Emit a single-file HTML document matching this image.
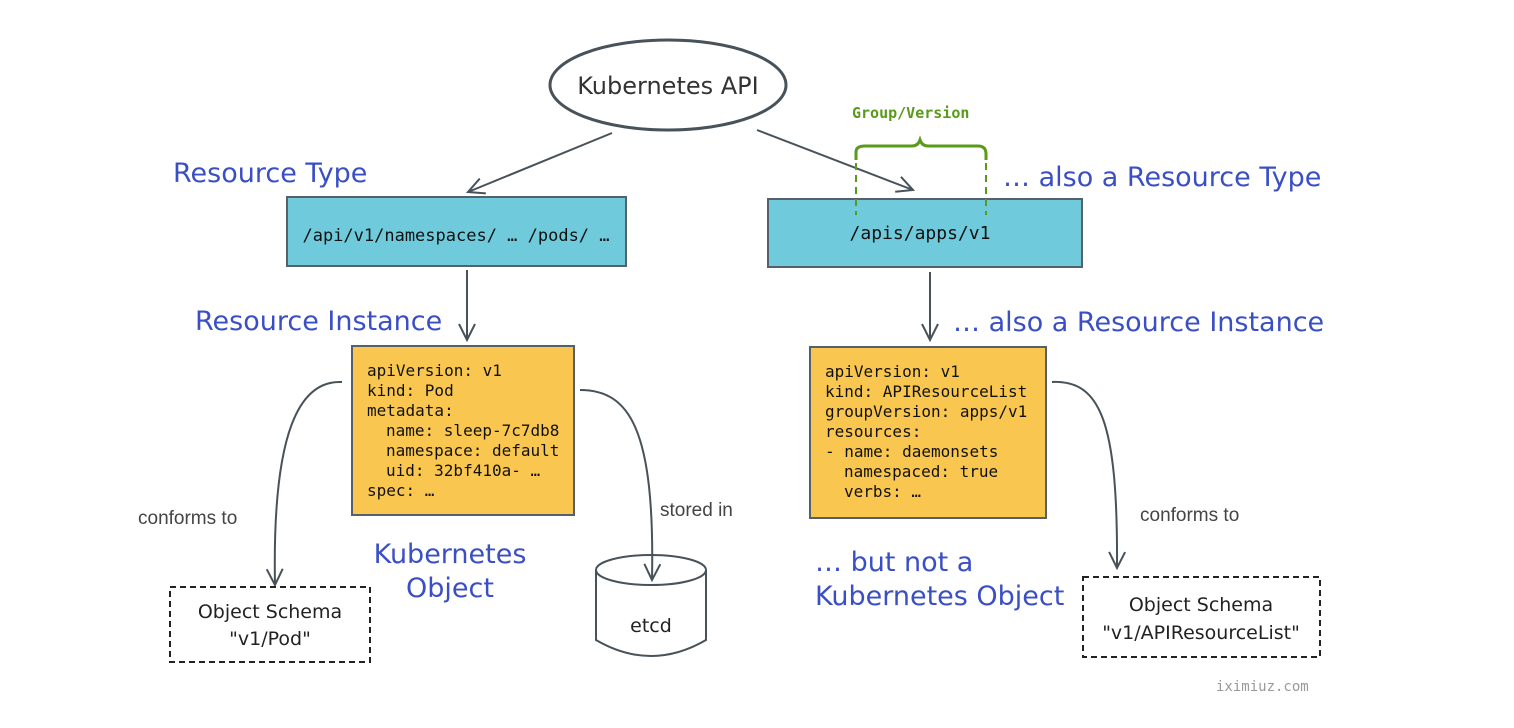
<!DOCTYPE html>
<html><head><meta charset="utf-8"><style>
html,body{margin:0;padding:0;background:#fff;}
svg{display:block;}
.hw{font-family:"DejaVu Sans","Liberation Sans",sans-serif;}
.mono{font-family:"DejaVu Sans Mono","Liberation Mono",monospace;}
</style></head><body>
<svg width="1514" height="728" viewBox="0 0 1514 728" xmlns="http://www.w3.org/2000/svg">
<defs>
<marker id="a" viewBox="0 0 20 20" refX="18" refY="10" markerWidth="20" markerHeight="20" markerUnits="userSpaceOnUse" orient="auto">
<path d="M2 2 L18 10 L2 18" fill="none" stroke="#48525a" stroke-width="2"/>
</marker>
</defs>
<g fill="none" stroke="#48525a" stroke-width="2">
<ellipse cx="668" cy="85" rx="118" ry="45" stroke-width="3"/>
<path d="M612 133 L468 192" marker-end="url(#a)"/>
<path d="M757 130 L913 190" marker-end="url(#a)"/>
<path d="M467 270 L467 340" marker-end="url(#a)"/>
<path d="M930 272 L930 340" marker-end="url(#a)"/>
<path d="M342 382 C300 380 272 430 275 585" marker-end="url(#a)"/>
<path d="M580 390 C630 390 655 430 652 580" marker-end="url(#a)"/>
<path d="M1052 382 C1100 380 1118 420 1117 568" marker-end="url(#a)"/>
</g>
<text x="668" y="94" text-anchor="middle" class="hw" font-size="24" fill="#333">Kubernetes API</text>
<rect x="287" y="197" width="339" height="69" fill="#6fcbdc" stroke="#55606a" stroke-width="2"/>
<text x="456" y="241" text-anchor="middle" class="mono" font-size="17" fill="#111">/api/v1/namespaces/ … /pods/ …</text>
<rect x="768" y="199" width="314" height="68" fill="#6fcbdc" stroke="#55606a" stroke-width="2"/>
<text x="920" y="239" text-anchor="middle" class="mono" font-size="18" fill="#111">/apis/apps/v1</text>
<text x="852" y="118" class="mono" font-size="15" fill="#5a9a1a" font-weight="bold">Group/Version</text>
<path d="M856 160 L856 152 Q856 146 865 146 L912 146 Q918 146 920 140 Q922 146 928 146 L978 146 Q986 146 986 154 L986 160" fill="none" stroke="#5a9a1a" stroke-width="3"/>
<path d="M856 163 L856 215 M986 163 L986 215" stroke="#5a9a1a" stroke-width="2" stroke-dasharray="7 5"/>
<g class="hw" font-size="27" fill="#3b4fc4">
<text x="173" y="182">Resource Type</text>
<text x="1003" y="186">… also a Resource Type</text>
<text x="195" y="330">Resource Instance</text>
<text x="953" y="331">… also a Resource Instance</text>
<text x="450" y="563" text-anchor="middle">Kubernetes</text>
<text x="450" y="597" text-anchor="middle">Object</text>
<text x="815" y="571">… but not a</text>
<text x="815" y="605">Kubernetes Object</text>
</g>
<rect x="352" y="346" width="222" height="169" fill="#f9c74f" stroke="#55606a" stroke-width="2"/>
<g class="mono" font-size="16" fill="#111">
<text x="367" y="376">apiVersion: v1</text>
<text x="367" y="396">kind: Pod</text>
<text x="367" y="416">metadata:</text>
<text x="386" y="436">name: sleep-7c7db8</text>
<text x="386" y="456">namespace: default</text>
<text x="386" y="476">uid: 32bf410a- …</text>
<text x="367" y="496">spec:  …</text>
</g>
<rect x="810" y="347" width="236" height="171" fill="#f9c74f" stroke="#55606a" stroke-width="2"/>
<g class="mono" font-size="16" fill="#111">
<text x="825" y="377">apiVersion: v1</text>
<text x="825" y="397">kind: APIResourceList</text>
<text x="825" y="417">groupVersion: apps/v1</text>
<text x="825" y="437">resources:</text>
<text x="825" y="457">- name: daemonsets</text>
<text x="844" y="477">namespaced: true</text>
<text x="844" y="497">verbs:  …</text>
</g>
<g font-family="'Liberation Sans',sans-serif" font-size="19" fill="#444">
<text x="138" y="524">conforms to</text>
<text x="660" y="516">stored in</text>
<text x="1140" y="521">conforms to</text>
</g>
<rect x="170" y="587" width="200" height="75" fill="none" stroke="#222" stroke-width="2" stroke-dasharray="6 4"/>
<text x="270" y="618" text-anchor="middle" class="hw" font-size="19" fill="#222">Object Schema</text>
<text x="270" y="645" text-anchor="middle" class="hw" font-size="19" fill="#222">"v1/Pod"</text>
<rect x="1083" y="577" width="237" height="80" fill="none" stroke="#222" stroke-width="2" stroke-dasharray="6 4"/>
<text x="1201" y="611" text-anchor="middle" class="hw" font-size="19" fill="#222">Object Schema</text>
<text x="1201" y="639" text-anchor="middle" class="hw" font-size="19" fill="#222">"v1/APIResourceList"</text>
<g fill="none" stroke="#48525a" stroke-width="2">
<path d="M596 570 L596 640 Q651 672 706 640 L706 570"/>
<ellipse cx="651" cy="570" rx="55" ry="15"/>
</g>
<text x="651" y="632" text-anchor="middle" class="hw" font-size="19" fill="#222">etcd</text>
<text x="1216" y="691" class="mono" font-size="14" fill="#999">iximiuz.com</text>
</svg>
</body></html>
